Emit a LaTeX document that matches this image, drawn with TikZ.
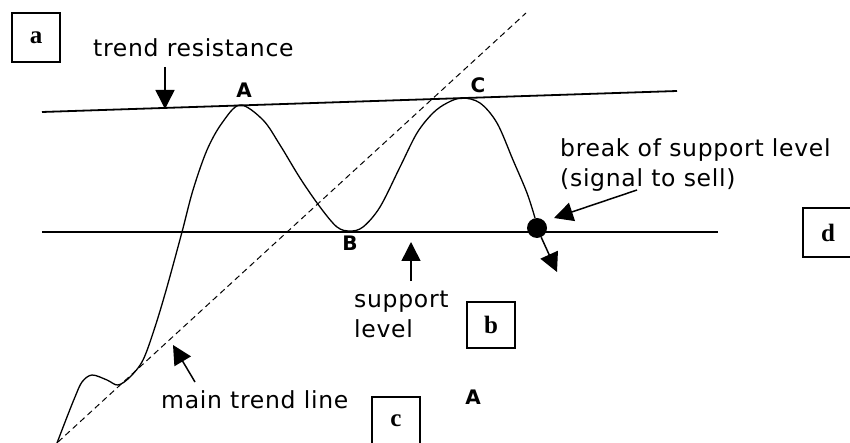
\documentclass[tikz,border=0pt]{standalone}
\usepackage{fontspec}
\setmainfont{Liberation Serif}
\newfontfamily\lblfont[LetterSpace=3]{DejaVu Sans}
\newfontfamily\ptfont{DejaVu Sans}
\usetikzlibrary{arrows.meta}
\begin{document}
\begin{tikzpicture}[x=1pt,y=-1pt,
  lbl/.style={font=\lblfont\fontsize{23.5}{30}\selectfont, inner sep=0pt, align=left},
  ptlbl/.style={font=\ptfont\bfseries\fontsize{20}{20}\selectfont, inner sep=0pt},
  letterbox/.style={draw, line width=1.4pt, font=\bfseries\fontsize{25}{25}\selectfont, inner sep=0pt},
  levelline/.style={line width=1.8pt},
  price/.style={line width=1.3pt},
  trendln/.style={line width=1pt, dash pattern=on 6pt off 4pt},
  arr/.style={line width=1.5pt, -{Triangle[length=19pt,width=19pt]}},
]
\useasboundingbox[fill=white] (0,0) rectangle (850,443);

% boxes
\node[letterbox, minimum width=48pt, minimum height=49pt] (boxa) at (36,37.5) {a};
\node[letterbox, minimum width=48pt, minimum height=46pt] (boxb) at (491,325) {b};
\node[letterbox, minimum width=48pt, minimum height=48pt] (boxc) at (396,421) {c};
\node[letterbox, minimum width=50pt, minimum height=49pt] (boxd) at (828,232.5) {d};

% level lines
\coordinate (resL) at (42,112);
\coordinate (resR) at (677,91);
\coordinate (supL) at (42,232);
\coordinate (supR) at (718,232);
\draw[levelline] (resL) -- (resR);
\draw[levelline] (supL) -- (supR);

% main trend line
\coordinate (trL) at (58,442);
\coordinate (trR) at (526,13);
\draw[trendln] (trL) -- (trR);

% price curve
\draw[price] plot[smooth, tension=0.55] coordinates {
 (57,443) (67,417) (75,397) (82,382) (92,375) (107,380) (118,385) (130,377)
 (143,360) (155,327) (167,287) (182,232) (193,190) (207,150) (222,123)
 (240,105) (263,120) (280,145) (300,178) (320,207) (337,227) (350,231)
 (363,227) (380,207) (400,167) (417,133) (433,113) (447,103) (462,98)
 (480,103) (497,123) (513,160) (527,193) (535,218)};

% break dot
\node[circle, fill=black, minimum size=20pt, inner sep=0pt] (dot) at (537,228) {};

% point labels
\node[ptlbl] (ptA) at (244,90) {A};
\node[ptlbl] (ptB) at (350,243) {B};
\node[ptlbl] (ptC) at (478,85) {C};
\node[ptlbl] (ptA2) at (473,397) {A};

% texts
\node[lbl, anchor=base west] (tres) at (93,57) {trend resistance};
\node[lbl, anchor=base west] (tbreak) at (560,187) {break of support level\\(signal to sell)};
\node[lbl, anchor=base west] (tsup) at (354,337) {support\\level};
\node[lbl, anchor=base west] (tmain) at (161,408) {main trend line};

% arrows
\coordinate (a1s) at (165,67);
\coordinate (a1e) at (165,109);
\draw[arr] (a1s) -- (a1e);
\coordinate (a2s) at (411,281);
\coordinate (a2e) at (411,242);
\draw[arr] (a2s) -- (a2e);
\coordinate (a3s) at (195,382);
\coordinate (a3e) at (173,345);
\draw[arr] (a3s) -- (a3e);
\coordinate (a4s) at (637,190);
\coordinate (a4e) at (554,218);
\draw[arr] (a4s) -- (a4e);
\coordinate (a5e) at (557,272);
\draw[arr] (dot) -- (a5e);
\end{tikzpicture}
\end{document}
